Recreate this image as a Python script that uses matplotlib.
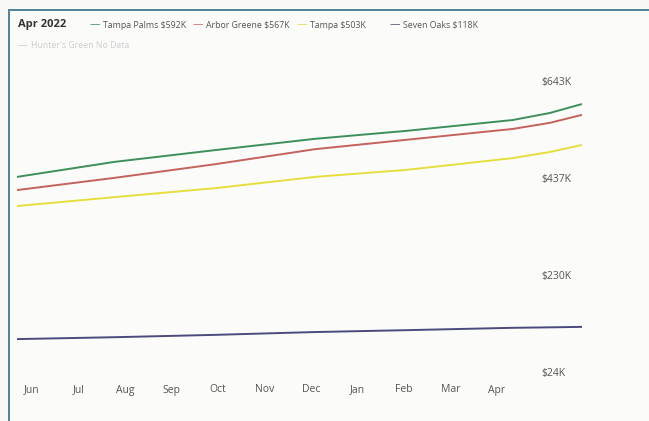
import matplotlib
matplotlib.use("Agg")
import matplotlib.pyplot as plt
from matplotlib.patches import Rectangle

plt.rcParams["font.family"] = ["Open Sans", "DejaVu Sans"]

months = [-0.32, 1.78, 3.94, 6.09, 8.06, 10.34, 11.14, 11.83]
tampa_palms = [439, 471, 496, 520, 537, 560, 575, 594]
arbor_greene = [411, 437, 466, 498, 518, 541, 554, 571]
tampa = [377, 396, 415, 439, 454, 479, 492, 507]
seven_oaks = [94, 98, 103, 109, 113, 118, 119, 120]

month_labels = ["Jun", "Jul", "Aug", "Sep", "Oct", "Nov", "Dec", "Jan", "Feb", "Mar", "Apr"]
y_ticks = [24, 230, 437, 643]
y_labels = ["$24K", "$230K", "$437K", "$643K"]

series = [
    ("Tampa Palms $592K", tampa_palms, "#3d8f5c"),
    ("Arbor Greene $567K", arbor_greene, "#c4625c"),
    ("Tampa $503K", tampa, "#e6de3c"),
    ("Seven Oaks $118K", seven_oaks, "#4b4a7c"),
]

W, H = 649, 421
fig = plt.figure(figsize=(W / 100, H / 100), dpi=100)
fig.patch.set_facecolor("#f8f8f6")

# card frame
fig.patches.append(Rectangle((9 / W, -0.05), 1.0, 1 - 10 / H + 0.05,
                             transform=fig.transFigure, facecolor="#fbfbfa",
                             edgecolor="#4f8196", lw=1.4, zorder=-5))

ax = fig.add_axes([17 / W, 1 - 372 / H, (582 - 17) / W, (372 - 81) / H])
ax.set_zorder(2)
ax.set_facecolor("none")
for label, values, color in series:
    ax.plot(months, values, color=color, lw=1.4, solid_capstyle="butt")

ax.set_xlim(months[0], months[-1])
ax.set_ylim(24, 643)
ax.set_xticks(range(len(month_labels)))
ax.set_xticklabels(month_labels)
ax.yaxis.tick_right()
ax.set_yticks(y_ticks)
ax.set_yticklabels(y_labels)
ax.tick_params(axis="x", length=0, pad=9, labelsize=7.5, labelcolor="#555555")
ax.tick_params(axis="y", length=0, pad=-29.5, labelsize=7.5, labelcolor="#555555")
for spine in ax.spines.values():
    spine.set_visible(False)

# header with legend
y_head = 1 - 25 / H
fig.text(18 / W, y_head, "Apr 2022", fontsize=8, fontweight="bold",
         color="#333333", va="center")
legend_x = [(90, 103), (193, 206), (297, 310), (390, 403)]
for (dash_x, text_x), (label, values, color) in zip(legend_x, series):
    fig.text(dash_x / W, y_head, "—", color=color, fontsize=7.5, va="center")
    fig.text(text_x / W, y_head, label, color="#555555", fontsize=6.3, va="center")

fig.text(18 / W, 1 - 46 / H, "—", color="#cccccc", fontsize=7, va="center")
fig.text(31 / W, 1 - 46 / H, "Hunter's Green No Data", color="#cccccc",
         fontsize=6.3, va="center")

fig.savefig("out.png", dpi=100, facecolor=fig.get_facecolor())
